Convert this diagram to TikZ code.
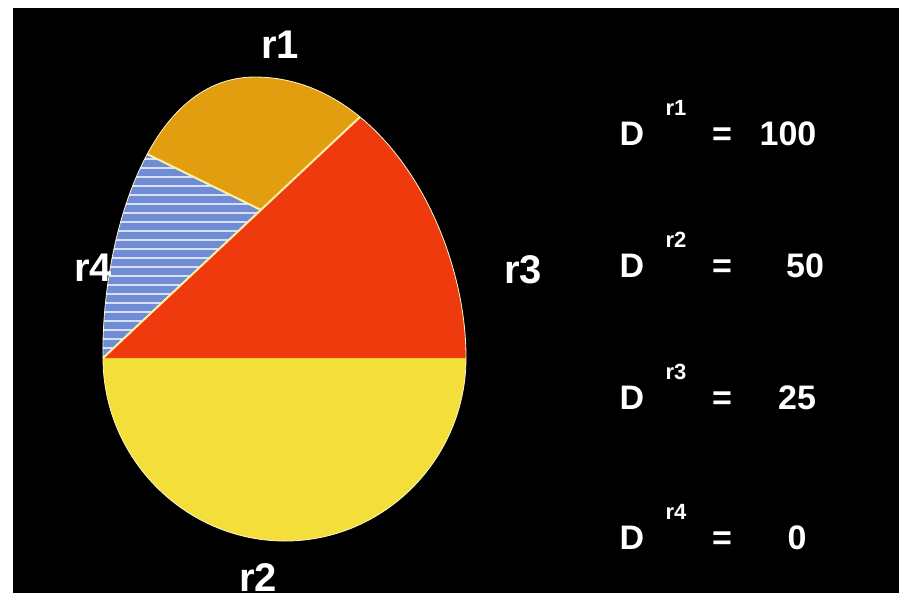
\documentclass[tikz,border=0pt]{standalone}
\usepackage{fontspec}
\setmainfont{Liberation Sans}
\definecolor{goldreg}{RGB}{226,158,14}
\definecolor{redreg}{RGB}{238,58,12}
\definecolor{yellowreg}{RGB}{244,222,58}
\definecolor{bluereg}{RGB}{112,140,212}
\definecolor{stripecol}{RGB}{214,224,250}
\definecolor{seamcol}{RGB}{250,240,170}
\begin{document}
\begin{tikzpicture}[x=0.5pt, y=-0.5pt,
    lbl/.style={text=white, font=\fontsize{20}{24}\selectfont\bfseries},
    eqn/.style={text=white, anchor=base, font=\fontsize{17}{20}\selectfont\bfseries},
    idx/.style={text=white, anchor=base, font=\fontsize{11}{13}\selectfont\bfseries},
    seam/.style={draw=seamcol, line width=1pt},
    stripe/.style={draw=stripecol, line width=1.3pt}]
    \useasboundingbox (0,0) rectangle (913,602);
    \fill[white] (0,0) rectangle (913,602);
    \fill[black] (13,8) rectangle (899,593);
    % corners of the regions
    \coordinate (C) at (261,210);
    \coordinate (L) at (103,358);
    \coordinate (R) at (466,358);
    \coordinate (top) at (255,77);
    \coordinate (bot) at (285,541);
    \def\eggpath{(R) .. controls (466,230) and (380,77) .. (top)
        .. controls (143,77) and (101,250) .. (L)
        .. controls (103,458) and (185,541) .. (bot)
        .. controls (385,541) and (466,458) .. (R) -- cycle}
    \begin{scope}
        \clip \eggpath;
        % regions
        \fill[yellowreg] (60,358) rectangle (500,560);
        \fill[redreg] (L) -- (410,70) -- (500,70) -- (500,358) -- cycle;
        \fill[goldreg] (84,123) -- (C) -- (410,70) -- (410,40) -- (84,40) -- cycle;
        \fill[bluereg] (84,123) -- (C) -- (L) -- (60,358) -- (60,123) -- cycle;
        \begin{scope}
            \clip (84,123) -- (C) -- (L) -- (60,358) -- (60,123) -- cycle;
            \foreach \y in {150,159,...,360}
                \draw[stripe] (60,\y) -- (280,\y);
        \end{scope}
        \draw[seam] (84,123) -- (C);
        \draw[seam] (410,70) -- (L);
    \end{scope}
    \draw[seamcol!60!white, line width=0.4pt] \eggpath;
    % region labels
    \node[lbl] (r1) at (280,45) {r1};
    \node[lbl] (r2) at (258,578) {r2};
    \node[lbl] (r3) at (523,270) {r3};
    \node[lbl] (r4) at (93,268) {r4};
    % values
    \foreach \i/\y/\vx/\v in {1/145/788/100, 2/277/805/50, 3/409/797/25, 4/549/797/0} {
        \node[eqn] (d\i) at (632,\y) {D};
        \node[idx] (s\i) at (676,{\y-30}) {r\i};
        \node[eqn] (e\i) at (722,\y) {=};
        \node[eqn] (v\i) at (\vx,\y) {\v};
    }
\end{tikzpicture}
\end{document}
